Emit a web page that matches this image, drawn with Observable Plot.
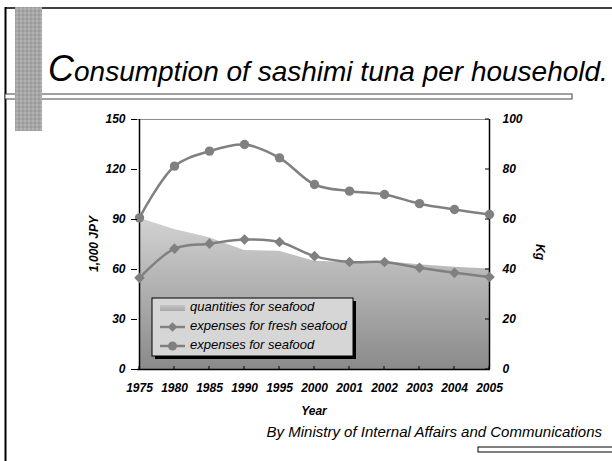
<!DOCTYPE html>
<html><head><meta charset="utf-8">
<script src="https://cdn.jsdelivr.net/npm/d3@7"></script>
<script src="https://cdn.jsdelivr.net/npm/@observablehq/plot@0.6"></script>
<style>html,body{margin:0;padding:0;background:#fff;} #chart{width:612px;height:461px;overflow:hidden;}</style>
</head><body><div id="chart"></div>
<script>
const years = ["1975","1980","1985","1990","1995","2000","2001","2002","2003","2004","2005"];
const seafoodExpenses = [91, 122, 131, 135, 127, 111, 107, 105, 99.5, 96, 93];      // 1,000 JPY
const freshSeafoodExpenses = [55, 72.5, 75.5, 78, 76.5, 68, 64.5, 64.5, 61, 58, 55.5]; // 1,000 JPY
const seafoodQuantities = [60.5, 56, 52.7, 47.6, 47.3, 43.3, 42.8, 43.2, 41.9, 40.9, 40.2]; // Kg
const leftTicks = [0, 30, 60, 90, 120, 150];
const rightTicks = [0, 20, 40, 60, 80, 100];
const seriesNames = ["quantities for seafood", "expenses for fresh seafood", "expenses for seafood"];
const titleText = "Consumption of sashimi tuna per household.";
const captionText = "By Ministry of Internal Affairs and Communications";

const kgToJpy = 150 / 100;
const data = years.map((year, i) => ({
  year, seafood: seafoodExpenses[i], fresh: freshSeafoodExpenses[i], qty: seafoodQuantities[i]
}));
const font = "'Liberation Sans', Arial, sans-serif";
const grey = "#808080";
const axisFont = {fontSize: 12, fontWeight: "bold", fontStyle: "italic", fill: "#000"};

const plot = Plot.plot({
  width: 612, height: 461,
  marginLeft: 137, marginRight: 122, marginTop: 119, marginBottom: 92,
  style: {fontFamily: font, background: "#fff", overflow: "visible"},
  x: {type: "point", domain: years, padding: 0, label: null},
  y: {domain: [0, 150], label: null},
  marks: [
    Plot.areaY(data, {x: "year", y: d => d.qty * kgToJpy, fill: "url(#qtyGrad)"}),
    Plot.ruleY([150], {stroke: "#8c8c8c", strokeWidth: 1}),
    Plot.ruleY([0], {stroke: "#000", strokeWidth: 1.5}),
    Plot.ruleX([years[0], years[years.length - 1]], {stroke: "#000", strokeWidth: 1.5}),
    Plot.line(data, {x: "year", y: "fresh", stroke: grey, strokeWidth: 2.5, curve: "catmull-rom"}),
    Plot.dot(data, {x: "year", y: "fresh", symbol: "diamond2", r: 4.8, fill: grey, stroke: "none"}),
    Plot.line(data, {x: "year", y: "seafood", stroke: grey, strokeWidth: 2.5, curve: "catmull-rom"}),
    Plot.dot(data, {x: "year", y: "seafood", r: 4.7, fill: grey, stroke: "none"}),
    Plot.axisY(leftTicks, {anchor: "left", tickSize: 6, tickPadding: 6, label: null, ...axisFont}),
    Plot.axisY(rightTicks.map(v => v * kgToJpy), {anchor: "right", tickSize: 0, tickPadding: 12,
      tickFormat: v => String(Math.round(v / kgToJpy)), label: null, ...axisFont}),
    Plot.axisX({anchor: "bottom", tickSize: 0, tickPadding: 14, label: null, ...axisFont})
  ]
});
document.getElementById("chart").appendChild(plot);

const svg = d3.select(plot);
const xs = plot.scale("x"), ys = plot.scale("y");
const x0 = xs.apply(years[0]), x1 = xs.apply(years[years.length - 1]);
const yTop = ys.apply(150), yBot = ys.apply(0);

const defs = svg.insert("defs", ":first-child");
const g1 = defs.append("linearGradient").attr("id", "qtyGrad").attr("x1", 0).attr("y1", 0).attr("x2", 0).attr("y2", 1);
g1.append("stop").attr("offset", "0").attr("stop-color", "#d2d2d2");
g1.append("stop").attr("offset", "1").attr("stop-color", "#8a8a8a");
const g2 = defs.append("linearGradient").attr("id", "legGrad").attr("x1", 0).attr("y1", 0).attr("x2", 0).attr("y2", 1);
g2.append("stop").attr("offset", "0").attr("stop-color", "#c4c4c4");
g2.append("stop").attr("offset", "1").attr("stop-color", "#a8a8a8");
const pat = defs.append("pattern").attr("id", "tex").attr("width", 4).attr("height", 4).attr("patternUnits", "userSpaceOnUse");
pat.append("rect").attr("width", 4).attr("height", 4).attr("fill", "#a6a6a6");
pat.append("circle").attr("cx", 1).attr("cy", 1).attr("r", 0.9).attr("fill", "#b8b8b8");
pat.append("circle").attr("cx", 3).attr("cy", 3).attr("r", 0.9).attr("fill", "#979797");

// inward ticks on right and bottom axes
const tk = svg.append("g").attr("stroke", "#000").attr("stroke-width", 1);
rightTicks.forEach(v => {
  const y = ys.apply(v * kgToJpy);
  tk.append("line").attr("x1", x1 - 4).attr("x2", x1).attr("y1", y).attr("y2", y);
});
years.forEach(yr => {
  const x = xs.apply(yr);
  tk.append("line").attr("x1", x).attr("x2", x).attr("y1", yBot - 3).attr("y2", yBot);
});

// axis titles
svg.append("text").attr("transform", `translate(95,${(yTop + yBot) / 2}) rotate(-90)`)
  .attr("text-anchor", "middle").attr("dominant-baseline", "middle")
  .attr("font-size", 12).attr("font-weight", "bold").attr("font-style", "italic").text("1,000 JPY");
svg.append("text").attr("transform", `translate(539,${(yTop + yBot) / 2 + 8}) rotate(90)`)
  .attr("text-anchor", "middle").attr("dominant-baseline", "middle")
  .attr("font-size", 12).attr("font-weight", "bold").attr("font-style", "italic").text("Kg");
svg.append("text").attr("x", (x0 + x1) / 2).attr("y", 412).attr("text-anchor", "middle").attr("dominant-baseline", "middle")
  .attr("font-size", 12).attr("font-weight", "bold").attr("font-style", "italic").text("Year");

// caption
svg.append("text").attr("x", 602).attr("y", 437).attr("text-anchor", "end")
  .attr("font-size", 15).attr("font-style", "italic").text(captionText);

// slide decorations
const deco = svg.append("g");
deco.append("line").attr("x1", 5).attr("x2", 612).attr("y1", 8).attr("y2", 8).attr("stroke", "#000").attr("stroke-width", 1.5);
deco.append("line").attr("x1", 5.5).attr("x2", 5.5).attr("y1", 7).attr("y2", 461).attr("stroke", "#000").attr("stroke-width", 2);
deco.append("rect").attr("x", 5).attr("y", 94).attr("width", 567).attr("height", 5).attr("fill", "#fff").attr("stroke", "#444").attr("stroke-width", 1);
deco.append("rect").attr("x", 15).attr("y", 7).attr("width", 27).attr("height", 124).attr("fill", "url(#tex)");
deco.append("rect").attr("x", 478).attr("y", 447).attr("width", 140).attr("height", 5).attr("fill", "#fff").attr("stroke", "#000").attr("stroke-width", 1);

// title
const t = svg.append("text").attr("x", 48).attr("y", 81).attr("text-anchor", "start")
  .attr("font-style", "italic").attr("fill", "#000");
t.append("tspan").attr("font-size", 36).text(titleText[0]);
t.append("tspan").attr("font-size", 28).text(titleText.slice(1));

// legend
const lg = svg.append("g");
lg.append("rect").attr("x", 155).attr("y", 301).attr("width", 201).attr("height", 58).attr("fill", "#000");
lg.append("rect").attr("x", 152).attr("y", 298).attr("width", 201).attr("height", 58).attr("fill", "#d6d6d6").attr("stroke", "#000").attr("stroke-width", 1);
const rows = [308, 327, 346];
lg.append("rect").attr("x", 160).attr("y", rows[0] - 3).attr("width", 25).attr("height", 6).attr("fill", "url(#legGrad)");
lg.append("line").attr("x1", 160).attr("x2", 185).attr("y1", rows[1]).attr("y2", rows[1]).attr("stroke", grey).attr("stroke-width", 2.5);
lg.append("path").attr("d", d3.symbol(d3.symbolDiamond2, 60)()).attr("transform", `translate(172.5,${rows[1]})`).attr("fill", grey);
lg.append("line").attr("x1", 160).attr("x2", 185).attr("y1", rows[2]).attr("y2", rows[2]).attr("stroke", grey).attr("stroke-width", 2.5);
lg.append("circle").attr("cx", 172.5).attr("cy", rows[2]).attr("r", 4.5).attr("fill", grey);
seriesNames.forEach((name, i) => {
  lg.append("text").attr("x", 190).attr("y", rows[i]).attr("text-anchor", "start").attr("dominant-baseline", "middle")
    .attr("font-size", 13).attr("font-style", "italic").attr("fill", "#000").text(name);
});
</script>
</body></html>
